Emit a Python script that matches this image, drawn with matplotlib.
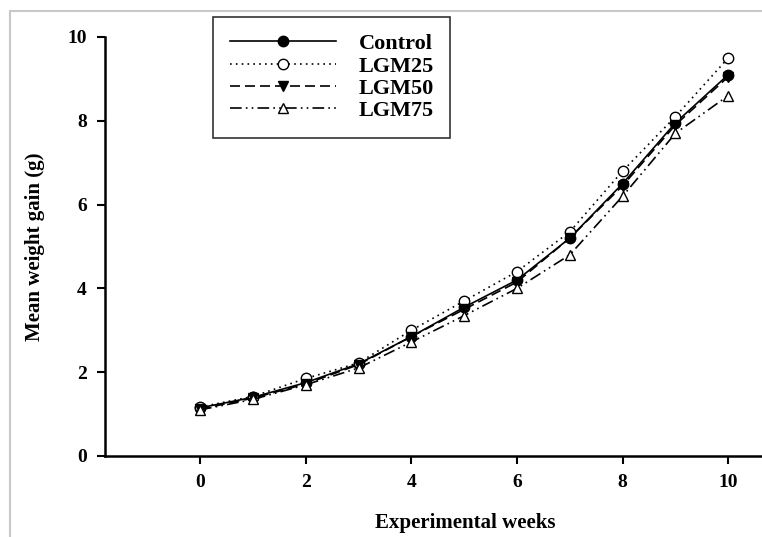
import numpy as np
import matplotlib.pyplot as plt
from matplotlib.patches import Rectangle

plt.rcParams['font.family'] = ['Liberation Serif', 'DejaVu Serif']
plt.rcParams['font.weight'] = 'bold'

# Data
weeks = [0, 1, 2, 3, 4, 5, 6, 7, 8, 9, 10]
control = [1.15, 1.40, 1.75, 2.20, 2.85, 3.55, 4.20, 5.20, 6.50, 7.95, 9.10]
lgm25 = [1.17, 1.42, 1.85, 2.22, 3.00, 3.70, 4.40, 5.35, 6.80, 8.10, 9.50]
lgm50 = [1.12, 1.38, 1.72, 2.18, 2.85, 3.50, 4.15, 5.20, 6.45, 7.90, 9.05]
lgm75 = [1.10, 1.35, 1.70, 2.10, 2.72, 3.35, 4.00, 4.80, 6.20, 7.70, 8.60]

fig = plt.figure(figsize=(7.62, 5.37), dpi=100)

# light gray frame around the picture
fig.patches.append(Rectangle((10 / 762, -0.1), 1.2, (537 - 11) / 537 + 0.1,
                             transform=fig.transFigure, fill=False,
                             edgecolor='#c8c8c8', linewidth=1.5))

ax = fig.add_axes([105 / 762, 1 - 456 / 537, 1 - 105 / 762, (456 - 37) / 537])

ms = 7.5
ax.plot(weeks, control, color='black', linestyle='-', linewidth=1.2,
        marker='o', markersize=ms, markerfacecolor='black', label='Control')
ax.plot(weeks, lgm25, color='black', linestyle=(0, (1, 2.5)), linewidth=1.2,
        marker='o', markersize=ms, markerfacecolor='white', label='LGM25')
ax.plot(weeks, lgm50, color='black', linestyle=(0, (6, 3)), linewidth=1.2,
        marker='v', markersize=ms, markerfacecolor='black', label='LGM50')
ax.plot(weeks, lgm75, color='black', linestyle=(0, (7, 2.5, 1, 2.5, 1, 2.5)), linewidth=1.2,
        marker='^', markersize=ms, markerfacecolor='white', label='LGM75')

ax.set_xlim(-1.8, 10.64)
ax.set_ylim(0, 10)
ax.set_xticks([0, 2, 4, 6, 8, 10])
ax.set_yticks([0, 2, 4, 6, 8, 10])
ax.spines['top'].set_visible(False)
ax.spines['right'].set_visible(False)
ax.spines['left'].set_linewidth(1.8)
ax.spines['bottom'].set_linewidth(1.8)
ax.tick_params(direction='out', length=6, width=1.5, labelsize=14, pad=7)
for lab in ax.get_xticklabels() + ax.get_yticklabels():
    lab.set_fontweight('bold')

ax.set_xlabel('Experimental weeks', fontsize=15, fontweight='bold', labelpad=16)
ax.xaxis.label.set_x(0.548)
ax.set_ylabel('Mean weight gain (g)', fontsize=15, fontweight='bold', labelpad=16)

leg = ax.legend(loc='upper left', bbox_to_anchor=(213 / 762, 1 - 17 / 537),
                bbox_transform=fig.transFigure, frameon=True, fancybox=False,
                handlelength=4.8, handletextpad=1.0, borderpad=0.75,
                borderaxespad=0, labelspacing=0.08,
                prop={'size': 16, 'weight': 'bold'})
leg.get_frame().set_edgecolor('black')
leg.get_frame().set_linewidth(1.2)

fig.savefig('out.png', dpi=100)
